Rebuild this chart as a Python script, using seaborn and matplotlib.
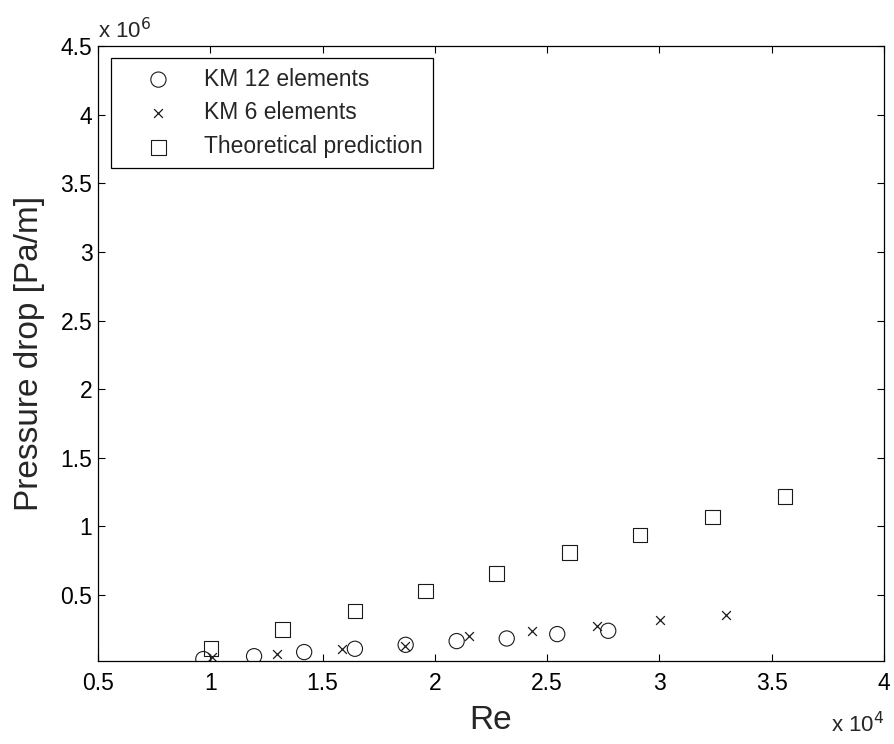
import numpy as np
import pandas as pd
import matplotlib
matplotlib.use("Agg")
import matplotlib.pyplot as plt
import seaborn as sns

# Values in displayed units: Re in x 10^4, pressure drop in x 10^6 Pa/m
re_km12 = [0.969, 1.195, 1.418, 1.644, 1.870, 2.097, 2.320, 2.545, 2.772]
dp_km12 = [0.034, 0.055, 0.085, 0.109, 0.138, 0.165, 0.184, 0.216, 0.240]

re_km6 = [1.006, 1.296, 1.585, 1.867, 2.153, 2.431, 2.720, 3.002, 3.296]
dp_km6 = [0.050, 0.069, 0.108, 0.132, 0.200, 0.242, 0.273, 0.322, 0.358]

re_theory = [1.003, 1.322, 1.644, 1.959, 2.275, 2.601, 2.913, 3.235, 3.559]
dp_theory = [0.111, 0.252, 0.385, 0.529, 0.658, 0.808, 0.937, 1.070, 1.216]

labels = ["KM 12 elements", "KM 6 elements", "Theoretical prediction"]
x_ticks = [0.5, 1, 1.5, 2, 2.5, 3, 3.5, 4]
y_ticks = [0.5, 1, 1.5, 2, 2.5, 3, 3.5, 4, 4.5]

sns.set_theme(style="white")
plt.rcParams["font.family"] = ["Liberation Sans", "DejaVu Sans"]

fig = plt.figure(figsize=(8.94, 7.44), dpi=100)
ax = fig.add_axes([98 / 894, 1 - 661 / 744, 786 / 894, 615 / 744])

edge = "#1a1a1a"
sns.scatterplot(x=re_km12, y=dp_km12, marker="o", s=120, facecolors="none",
                edgecolors=edge, linewidths=0.8, ax=ax, label=labels[0])
sns.scatterplot(x=re_km6, y=dp_km6, marker="x", s=40, color=edge,
                linewidths=0.9, ax=ax, label=labels[1])
sns.scatterplot(x=re_theory, y=dp_theory, marker="s", s=112, facecolors="none",
                edgecolors=edge, linewidths=0.8, ax=ax, label=labels[2])

ax.set_xlim(0.5, 4)
ax.set_ylim(0.02, 4.5)
ax.set_xticks(x_ticks)
ax.set_xticklabels([f"{t:g}" for t in x_ticks])
ax.set_yticks(y_ticks)
ax.set_yticklabels([f"{t:g}" for t in y_ticks])
ax.tick_params(direction="in", length=5, width=0.8, colors="black",
               labelsize=16.5, top=True, right=True, bottom=True, left=True)
ax.tick_params(axis="x", pad=8)
ax.tick_params(axis="y", pad=4)
for sp in ax.spines.values():
    sp.set_color("black")
    sp.set_linewidth(0.9)

ax.set_xlabel("Re", fontsize=24)
ax.set_ylabel("Pressure drop [Pa/m]", fontsize=24)
ax.xaxis.set_label_coords(0.5, -0.072)
ax.yaxis.set_label_coords(-0.068, 0.5)

ax.text(0.0, 1.004, r"x 10$^{6}$", transform=ax.transAxes, ha="left",
        va="bottom", fontsize=16)
ax.text(1.0, -0.083, r"x 10$^{4}$", transform=ax.transAxes, ha="right",
        va="top", fontsize=16)

leg = ax.legend(loc="upper left", bbox_to_anchor=(13 / 786, 1 - 12 / 615),
                borderaxespad=0, fontsize=16.5, frameon=True, fancybox=False,
                edgecolor="black", handlelength=3.3, handletextpad=0.35,
                borderpad=0.42, labelspacing=0.47, framealpha=1)
leg.get_frame().set_linewidth(0.9)

fig.savefig("out.png", dpi=100)
